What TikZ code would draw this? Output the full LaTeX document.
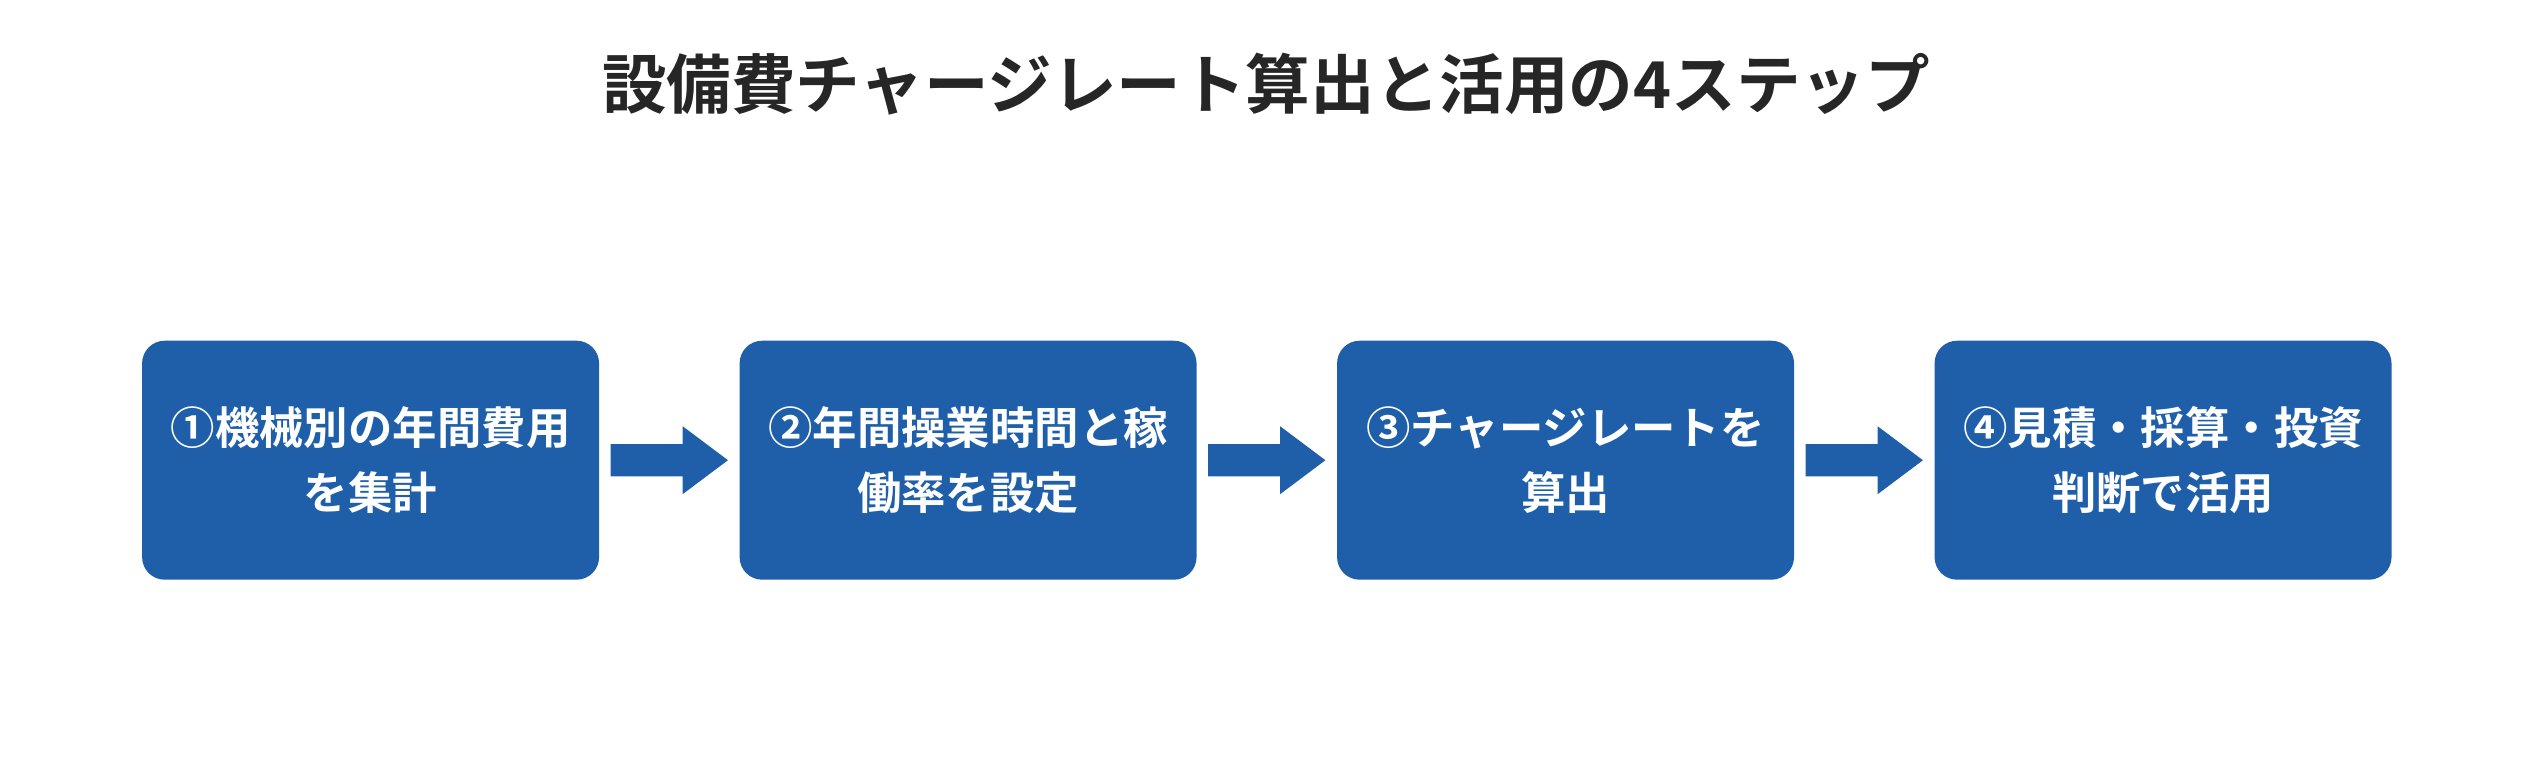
\documentclass[tikz,border=0pt]{standalone}
\usepackage{fontspec}
\setmainfont{Noto Sans CJK JP}[BoldFont={* Bold}]
\usetikzlibrary{positioning}
\definecolor{stepblue}{HTML}{1F5FAA}
\tikzset{
  stepbox/.style={draw=none,fill=stepblue,rounded corners=14pt,minimum width=283pt,minimum height=148pt,
    text=white,align=center,font=\fontsize{27.5pt}{40pt}\selectfont\bfseries},
  flow/.style={fill=stepblue}
}
\begin{document}
\begin{tikzpicture}[x=1pt,y=-1pt]
\useasboundingbox (0,0) rectangle (1568,470);
\node[font=\fontsize{40pt}{46pt}\selectfont\bfseries,text=black!85] (title) at (784,52) {設備費チャージレート算出と活用の4ステップ};

\node[stepbox] (s1) at (229.5,285) {①機械別の年間費用\\を集計};
\node[stepbox] (s2) at (599.5,285) {②年間操業時間と稼\\働率を設定};
\node[stepbox] (s3) at (969.5,285) {③チャージレートを\\算出};
\node[stepbox] (s4) at (1339.5,285) {④見積・採算・投資\\判断で活用};

% arrows between steps
\foreach \a/\b in {s1/s2,s2/s3,s3/s4}{
  \path ([xshift=7pt]\a.east) coordinate (p) ([xshift=-7pt]\b.west) coordinate (q);
  \fill[flow] ([yshift=-10pt]p) -- ([xshift=-28pt,yshift=-10pt]q) -- ([xshift=-28pt,yshift=-21pt]q)
    -- (q) -- ([xshift=-28pt,yshift=21pt]q) -- ([xshift=-28pt,yshift=10pt]q) -- ([yshift=10pt]p) -- cycle;
}
\end{tikzpicture}
\end{document}
